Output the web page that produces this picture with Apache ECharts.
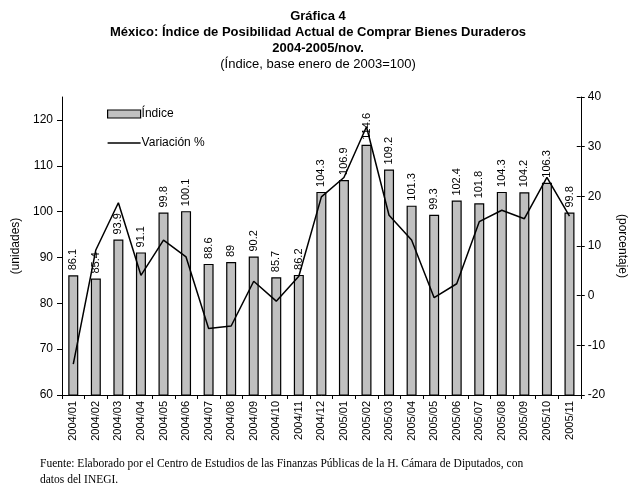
<!DOCTYPE html>
<html><head><meta charset="utf-8">
<script src="https://cdn.jsdelivr.net/npm/echarts@6/dist/echarts.min.js"></script>
<style>html,body{margin:0;padding:0;background:#fff}#c{width:636px;height:491px}</style>
</head><body><div id="c"></div>
<script>
var categories = ["2004/01","2004/02","2004/03","2004/04","2004/05","2004/06","2004/07","2004/08","2004/09","2004/10","2004/11","2004/12","2005/01","2005/02","2005/03","2005/04","2005/05","2005/06","2005/07","2005/08","2005/09","2005/10","2005/11"];
var indice = [86.1,85.4,93.9,91.1,99.8,100.1,88.6,89,90.2,85.7,86.2,104.3,106.9,114.6,109.2,101.3,99.3,102.4,101.8,104.3,104.2,106.3,99.8];
var variacion = [-13.8,9.2,18.7,4.1,11.2,7.8,-6.6,-6.1,2.9,-1.1,3.9,19.9,23.8,34.0,16.2,11.2,-0.4,2.4,14.9,17.2,15.5,23.8,16.0];
var leftTicks = [60,70,80,90,100,110,120];

var sans = '"Liberation Sans", Arial, sans-serif';
var chart = echarts.init(document.getElementById('c'), null, {renderer:'canvas'});
chart.setOption({
  animation:false,
  backgroundColor:'#fff',
  title:[
    {text:'Gráfica 4', left:'center', top:5, textStyle:{fontFamily:sans, fontSize:13, fontWeight:'bold', color:'#000'}},
    {text:'México: Índice de Posibilidad Actual de Comprar Bienes Duraderos', left:'center', top:21, textStyle:{fontFamily:sans, fontSize:13, fontWeight:'bold', color:'#000'}},
    {text:'2004-2005/nov.', left:'center', top:37, textStyle:{fontFamily:sans, fontSize:13, fontWeight:'bold', color:'#000'}},
    {text:'(Índice, base enero de 2003=100)', left:'center', top:53, textStyle:{fontFamily:sans, fontSize:13, fontWeight:'normal', color:'#000'}},
    {text:'Fuente: Elaborado por el Centro de Estudios de las Finanzas Públicas de la H. Cámara de Diputados, con\ndatos del INEGI.', left:35, top:451, textStyle:{fontFamily:'"Liberation Serif", "Times New Roman", serif', fontSize:11.5, fontWeight:'normal', color:'#000', lineHeight:16}}
  ],
  legend:{
    orient:'vertical', left:102, top:103, itemGap:17, itemWidth:33, itemHeight:8,
    textStyle:{fontFamily:sans, fontSize:12, color:'#000', padding:[0,0,0,-4]},
    data:[
      {name:'Índice', icon:'rect', itemStyle:{color:'#c0c0c0', borderColor:'#000', borderWidth:1.2}},
      {name:'Variación %', icon:'path://M0,0 M0,3.2 L33,3.2 L33,4.8 L0,4.8 Z M33,8', itemStyle:{color:'#000', borderWidth:0}}
    ]
  },
  grid:{left:62, right:44, top:97, bottom:96},
  xAxis:{
    type:'category', data:categories, boundaryGap:true,
    axisLine:{onZero:false, lineStyle:{color:'#000', width:1}},
    axisTick:{show:true, length:4, lineStyle:{color:'#000'}},
    axisLabel:{rotate:90, color:'#000', fontFamily:sans, fontSize:11, margin:6, interval:0}
  },
  yAxis:[
    {type:'value', min:60, max:125, interval:10, position:'left',
     name:'(unidades)', nameLocation:'middle', nameGap:38, nameRotate:90,
     nameTextStyle:{fontFamily:sans, fontSize:12, color:'#000'},
     splitLine:{show:false},
     axisLine:{show:true, onZero:false, lineStyle:{color:'#000'}},
     axisTick:{show:true, length:5, customValues:leftTicks, lineStyle:{color:'#000'}},
     axisLabel:{color:'#000', fontFamily:sans, fontSize:12, margin:9, customValues:leftTicks}},
    {type:'value', min:-20, max:40, interval:10, position:'right',
     name:'(porcentaje)', nameLocation:'middle', nameGap:32, nameRotate:-90,
     nameTextStyle:{fontFamily:sans, fontSize:12, color:'#000'},
     splitLine:{show:false},
     axisLine:{show:true, onZero:false, lineStyle:{color:'#000'}},
     axisTick:{show:true, length:4, lineStyle:{color:'#000'}},
     axisLabel:{color:'#000', fontFamily:sans, fontSize:12, margin:7}},
    {type:'value', min:-20, max:40, interval:10, position:'right',
     splitLine:{show:false},
     axisLine:{show:false},
     axisTick:{show:true, inside:true, length:4, lineStyle:{color:'#000'}},
     axisLabel:{show:false}}
  ],
  series:[
    {name:'Índice', type:'bar', data:indice, yAxisIndex:0, barWidth:10,
     itemStyle:{color:'#c0c0c0', borderColor:'#000', borderWidth:1.2},
     label:{show:true, position:'top', rotate:90, align:'left', verticalAlign:'middle', distance:5,
            color:'#000', fontFamily:sans, fontSize:11}},
    {name:'Variación %', type:'line', data:variacion, yAxisIndex:1, symbol:'none',
     lineStyle:{color:'#000', width:1.5}, itemStyle:{color:'#000'}}
  ]
});
</script></body></html>
